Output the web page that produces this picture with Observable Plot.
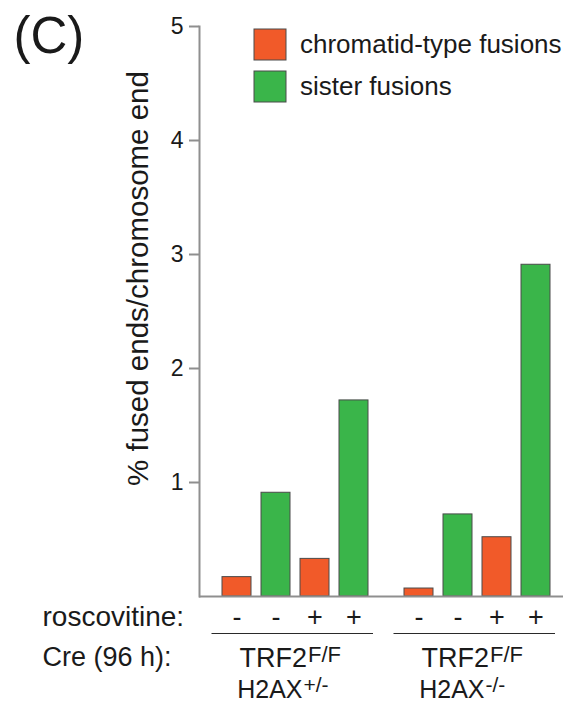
<!DOCTYPE html>
<html><head><meta charset="utf-8">
<script src="https://cdn.jsdelivr.net/npm/d3@7"></script>
<script src="https://cdn.jsdelivr.net/npm/@observablehq/plot@0.6"></script>
<style>
html,body{margin:0;padding:0;background:#fff;}
#wrap{position:relative;width:583px;height:704px;overflow:hidden;}
#legend{position:absolute;left:254px;top:29px;}
.lg-swatch{padding-bottom:11px !important;}
.lg-swatch svg{margin-right:14px !important;}
.lg-swatch svg rect{stroke:#4a4a4a;stroke-width:1;}
</style></head><body><div id="wrap"><div id="chart"></div><div id="legend"></div></div>
<script>
// ---- data ----
const fusionTypes = ["chromatid-type fusions", "sister fusions"];
const fusionColors = ["#F15A29", "#3AB54A"];
const genotypes = ["TRF2F/F H2AX+/-", "TRF2F/F H2AX-/-"];
const genoLine1 = ["TRF2", "TRF2"];
const genoLine1Sup = ["F/F", "F/F"];
const genoLine2 = ["H2AX", "H2AX"];
const genoLine2Sup = ["+/-", "-/-"];
const barTypes = ["chromatid-type fusions", "sister fusions", "chromatid-type fusions", "sister fusions"];
const roscovitine = ["-", "-", "+", "+"];
const valuesHet = [0.17, 0.91, 0.33, 1.72];
const valuesNull = [0.07, 0.72, 0.52, 2.91];
const yTicks = [1, 2, 3, 4, 5];
const yTickLabels = ["1", "2", "3", "4", "5"];
const yTitle = "% fused ends/chromosome end";
const panelLabel = "(C)";
const rowLabels = ["roscovitine:", "Cre (96 h):"];

// ---- tables ----
const slots = barTypes.map((t, i) => `${t} ${roscovitine[i]} ${i}`);
const data = [valuesHet, valuesNull].flatMap((vals, gi) =>
  vals.map((v, i) => ({genotype: genotypes[gi], slot: slots[i], type: barTypes[i], rosc: roscovitine[i], value: v})));
const genoData = genotypes.map((g, i) => ({genotype: g, l1: genoLine1[i], s1: genoLine1Sup[i], l2: genoLine2[i], s2: genoLine2Sup[i]}));

const font = "'Liberation Sans', Arial, Helvetica, sans-serif";
const ink = "#1a1a1a";
const axisGray = "#8f8f8f";

const chart = Plot.plot({
  width: 583, height: 704,
  marginTop: 26, marginBottom: 108, marginLeft: 199, marginRight: 20,
  style: {fontFamily: font, background: "#fff", color: ink, overflow: "visible"},
  fx: {domain: genotypes, padding: 0, axis: null},
  x: {domain: slots, paddingInner: 0.25, paddingOuter: 0.43, align: 0.63, axis: null},
  y: {domain: [0, 5], axis: null},
  color: {domain: fusionTypes, range: fusionColors},
  marks: [
    Plot.barY(data, {fx: "genotype", x: "slot", y: "value", fill: "type", stroke: "#4a4a4a", strokeWidth: 1}),
    Plot.ruleY([0], {stroke: axisGray, strokeWidth: 2}),
    Plot.frame({anchor: "left", stroke: axisGray, strokeWidth: 2, facetAnchor: "left"}),
    Plot.axisY({ticks: yTicks, tickFormat: (d) => yTickLabels[yTicks.indexOf(d)], tickSize: 10, tickPadding: 6, fontSize: 23, stroke: axisGray, strokeWidth: 2, fill: ink, label: null}),
    // roscovitine signs
    Plot.text(data, {fx: "genotype", x: "slot", frameAnchor: "bottom", text: "rosc", dy: 29, lineAnchor: "bottom", fontSize: 27, fill: ink}),
    Plot.ruleY([0], {dy: 37, insetLeft: 12.5, insetRight: 8, stroke: "#2a2a2a", strokeWidth: 1.2}),
    // genotype labels
    Plot.text(genoData, {fx: "genotype", frameAnchor: "bottom", text: "l1", textAnchor: "end", dx: 16.5, dy: 70.7, lineAnchor: "bottom", fontSize: 27, fill: ink}),
    Plot.text(genoData, {fx: "genotype", frameAnchor: "bottom", text: "s1", textAnchor: "start", dx: 17.5, dy: 65.7, lineAnchor: "bottom", fontSize: 22, fill: ink}),
    Plot.text(genoData, {fx: "genotype", frameAnchor: "bottom", text: "l2", textAnchor: "end", dx: 12, dy: 101.3, lineAnchor: "bottom", fontSize: 25, fill: ink}),
    Plot.text(genoData, {fx: "genotype", frameAnchor: "bottom", text: "s2", textAnchor: "start", dx: 13, dy: 95, lineAnchor: "bottom", fontSize: 21, fill: ink}),
    // row labels
    Plot.text([rowLabels[0]], {text: d => d, frameAnchor: "bottom-left", textAnchor: "start", dx: -157, dy: 29, lineAnchor: "bottom", fontSize: 28, fill: ink, facetAnchor: "left"}),
    Plot.text([rowLabels[1]], {text: d => d, frameAnchor: "bottom-left", textAnchor: "start", dx: -157, dy: 69, lineAnchor: "bottom", fontSize: 27, fill: ink, facetAnchor: "left"}),
    // panel label and y title
    Plot.text([panelLabel], {text: d => d, frameAnchor: "top-left", textAnchor: "start", dx: -186, dy: 26, lineAnchor: "bottom", fontSize: 51, fill: ink, facetAnchor: "left"}),
    Plot.text([yTitle], {text: d => d, frameAnchor: "left", rotate: -90, dx: -61, dy: -33, lineAnchor: "middle", textAnchor: "middle", fontSize: 29.5, fill: ink, facetAnchor: "left"})
  ]
});
document.getElementById("chart").appendChild(chart);

const legend = Plot.legend({
  color: {domain: fusionTypes, range: fusionColors},
  legend: "swatches", columns: 1, swatchWidth: 32, swatchHeight: 31,
  className: "lg",
  style: {fontSize: "26px", fontFamily: font, color: ink}
});
document.getElementById("legend").appendChild(legend);
</script>
</body></html>
